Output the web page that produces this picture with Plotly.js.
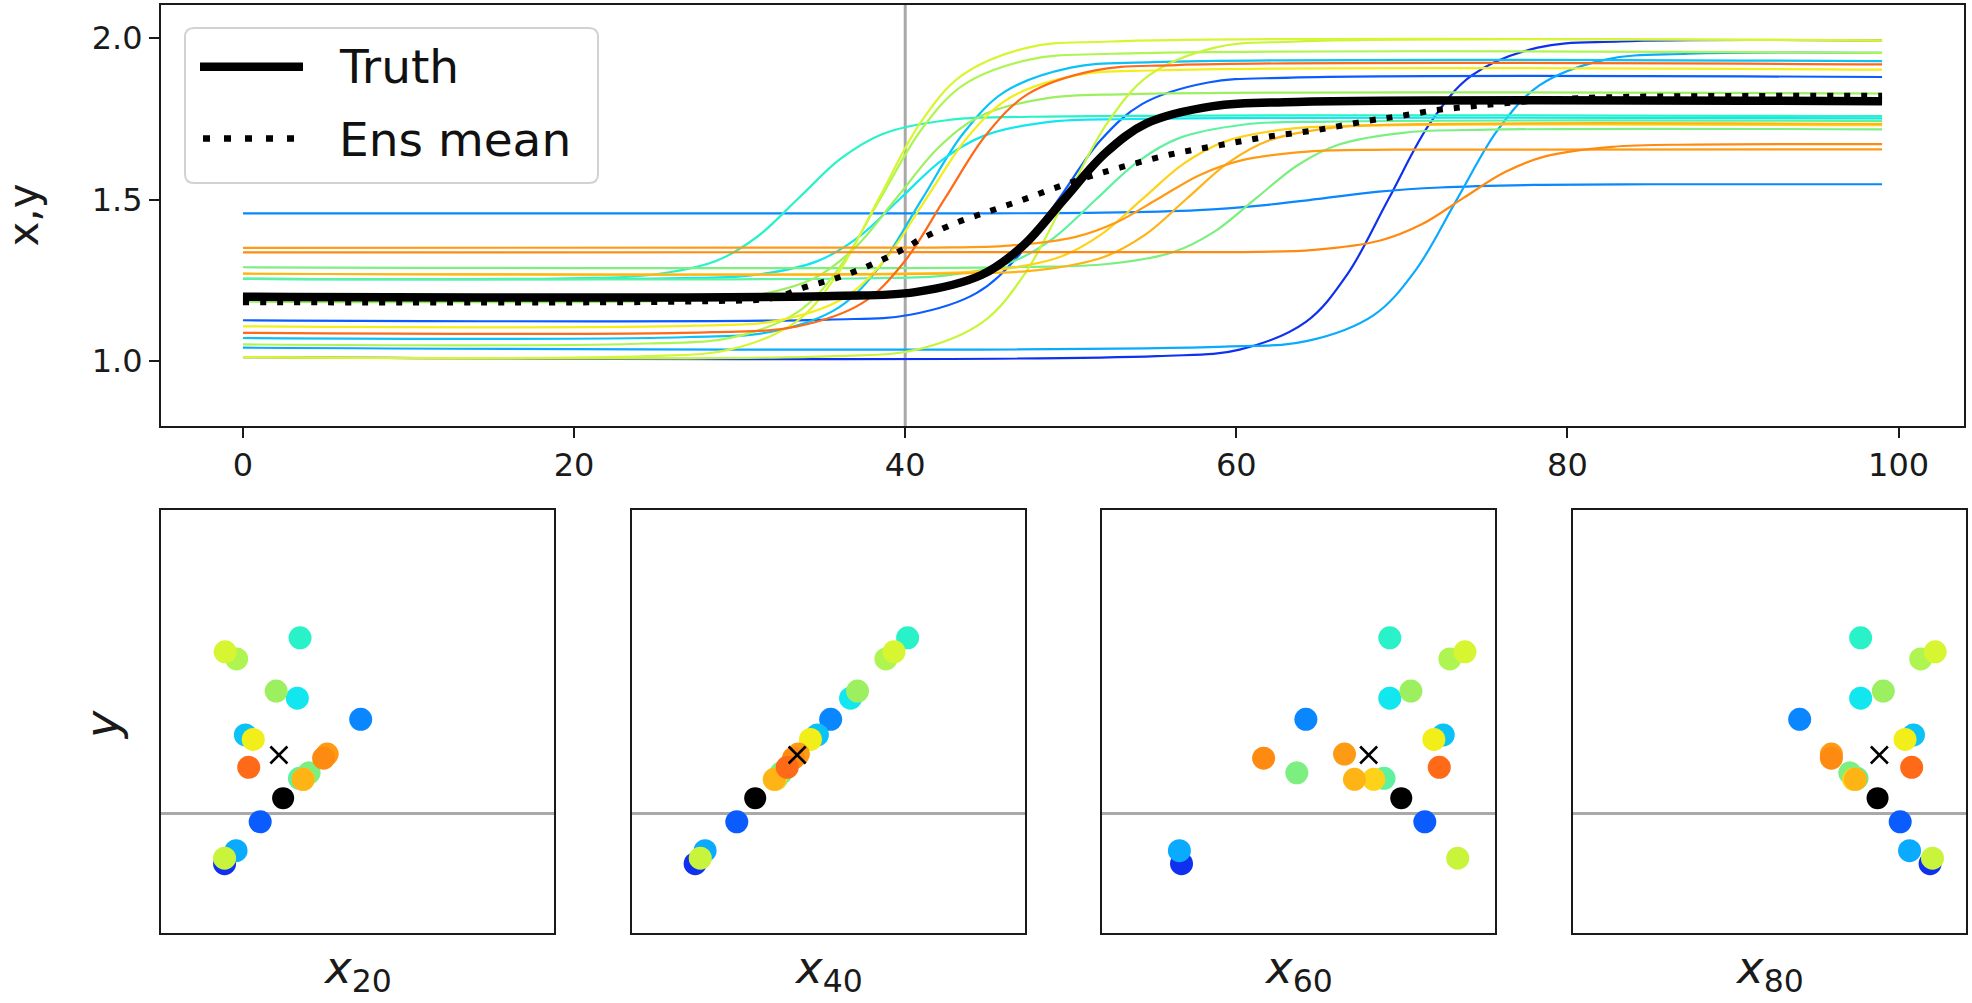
<!DOCTYPE html>
<html>
<head>
<meta charset="utf-8">
<script src="https://cdn.plot.ly/plotly-3.0.1.min.js"></script>
<style>html,body{margin:0;padding:0;background:#fff;}</style>
</head>
<body>
<div id="chart" style="width:1972px;height:1003px;"></div>
<script>
// ---------------- DATA ----------------
const timeTicks = [0, 20, 40, 60, 80, 100];
const valueTicks = [1.0, 1.5, 2.0];
const valueTickText = ['1.0', '1.5', '2.0'];
const obsTime = 40;          // vertical marker in top panel
const obsValue = 1.168;      // observed y (horizontal line in bottom panels)
const snapTimes = [20, 40, 60, 80];

// ensemble members (drawn in this order)
const memberIds = ['S','P','F','Q','G','E','A','O','L','D','C','R','B','H','N','M','J','I','K'];

// top panel: knots (time, value)
const memberKnotT = [
  [0, 55.2, 60.2, 64.2, 66.7, 69.2, 71.7, 74.2, 78.2, 83.2, 99],
  [0, 35.3, 40.3, 44.3, 46.8, 49.3, 51.8, 54.3, 58.3, 63.3, 99],
  [0, 45.0, 52.0, 57.7, 61.4, 65.0, 68.6, 72.3, 78.0, 85.0, 99],
  [0, 59.3, 64.3, 68.3, 70.8, 73.3, 75.8, 78.3, 82.3, 87.3, 99],
  [0, 27.0, 32.0, 36.0, 38.5, 41.0, 43.5, 46.0, 50.0, 55.0, 99],
  [0, 25.7, 30.7, 34.7, 37.2, 39.7, 42.2, 44.7, 48.7, 53.7, 99],
  [0, 19.6, 24.6, 28.6, 31.1, 33.6, 36.1, 38.6, 42.6, 47.6, 99],
  [0, 37.5, 42.5, 46.5, 49.0, 51.5, 54.0, 56.5, 60.5, 65.5, 99],
  [0, 47.2, 52.2, 56.2, 58.7, 61.2, 63.7, 66.2, 70.2, 75.2, 99],
  [0, 25.5, 30.5, 34.5, 37.0, 39.5, 42.0, 44.5, 48.5, 53.5, 99],
  [0, 24.5, 29.5, 33.5, 36.0, 38.5, 41.0, 43.5, 47.5, 52.5, 99],
  [0, 35.7, 40.7, 44.7, 47.2, 49.7, 52.2, 54.7, 58.7, 63.7, 99],
  [0, 24.4, 29.4, 33.4, 35.9, 38.4, 40.9, 43.4, 47.4, 52.4, 99],
  [0, 27.3, 32.3, 36.3, 38.8, 41.3, 43.8, 46.3, 50.3, 55.3, 99],
  [0, 40.3, 45.3, 49.3, 51.8, 54.3, 56.8, 59.3, 63.3, 68.3, 99],
  [0, 43.0, 48.0, 52.0, 54.5, 57.0, 59.5, 62.0, 66.0, 71.0, 99],
  [0, 41.3, 46.3, 50.3, 52.8, 55.3, 57.8, 60.3, 64.3, 69.3, 99],
  [0, 59.7, 64.7, 68.7, 71.2, 73.7, 76.2, 78.7, 82.7, 87.7, 99],
  [0, 28.4, 33.4, 37.4, 39.9, 42.4, 44.9, 47.4, 51.4, 56.4, 99]
];
const memberKnotX = [
  [1.013, 1.016, 1.036, 1.122, 1.269, 1.503, 1.737, 1.884, 1.971, 1.990, 1.993],
  [1.127, 1.129, 1.144, 1.211, 1.324, 1.504, 1.684, 1.796, 1.863, 1.878, 1.880],
  [1.458, 1.458, 1.460, 1.468, 1.482, 1.503, 1.525, 1.538, 1.546, 1.548, 1.548],
  [1.042, 1.045, 1.063, 1.143, 1.280, 1.499, 1.717, 1.854, 1.934, 1.952, 1.955],
  [1.072, 1.075, 1.092, 1.167, 1.296, 1.501, 1.705, 1.834, 1.909, 1.926, 1.929],
  [1.255, 1.257, 1.266, 1.310, 1.385, 1.504, 1.622, 1.697, 1.741, 1.750, 1.752],
  [1.255, 1.257, 1.267, 1.311, 1.387, 1.507, 1.627, 1.703, 1.747, 1.757, 1.759],
  [1.255, 1.257, 1.266, 1.309, 1.383, 1.500, 1.616, 1.690, 1.733, 1.742, 1.744],
  [1.291, 1.292, 1.301, 1.338, 1.402, 1.505, 1.607, 1.671, 1.708, 1.717, 1.718],
  [1.185, 1.187, 1.200, 1.257, 1.353, 1.507, 1.661, 1.758, 1.814, 1.827, 1.829],
  [1.052, 1.055, 1.073, 1.152, 1.288, 1.504, 1.719, 1.855, 1.934, 1.952, 1.955],
  [1.013, 1.016, 1.036, 1.122, 1.269, 1.503, 1.737, 1.884, 1.971, 1.990, 1.993],
  [1.013, 1.016, 1.036, 1.122, 1.269, 1.503, 1.737, 1.884, 1.971, 1.990, 1.993],
  [1.108, 1.110, 1.126, 1.196, 1.316, 1.506, 1.696, 1.815, 1.885, 1.901, 1.903],
  [1.271, 1.272, 1.282, 1.322, 1.391, 1.501, 1.611, 1.680, 1.720, 1.730, 1.731],
  [1.271, 1.272, 1.282, 1.323, 1.392, 1.503, 1.614, 1.684, 1.724, 1.734, 1.735],
  [1.351, 1.352, 1.358, 1.385, 1.431, 1.504, 1.577, 1.622, 1.649, 1.655, 1.656],
  [1.337, 1.338, 1.345, 1.374, 1.424, 1.505, 1.585, 1.635, 1.664, 1.671, 1.672],
  [1.088, 1.090, 1.107, 1.180, 1.305, 1.504, 1.702, 1.827, 1.900, 1.917, 1.919]
];
const truthT = [0, 35.6, 40.6, 44.6, 47.1, 49.6, 52.1, 54.6, 58.6, 63.6, 99];
const truthX = [1.200, 1.202, 1.214, 1.267, 1.357, 1.502, 1.645, 1.737, 1.790, 1.803, 1.805];
const meanT = [0, 28, 32, 34, 36, 38, 40, 41, 43, 45, 47, 49, 51, 53, 56, 59, 62, 65, 68, 70, 72, 74, 76, 79, 83, 99];
const meanX = [1.183, 1.186, 1.196, 1.230, 1.260, 1.300, 1.350, 1.380, 1.427, 1.463, 1.498, 1.536, 1.570, 1.600, 1.640, 1.669, 1.696, 1.717, 1.745, 1.760, 1.777, 1.788, 1.798, 1.810, 1.818, 1.822];

// bottom panels: observed quantity y of each member and its state at t = 20, 40, 60, 80
const memberY   = [1.013, 1.142, 1.458, 1.053, 1.410, 1.523, 1.709, 1.276, 1.293, 1.545, 1.644, 1.030, 1.666, 1.396, 1.273, 1.273, 1.351, 1.338, 1.310];
const memberX20 = [1.010, 1.128, 1.461, 1.048, 1.079, 1.251, 1.260, 1.258, 1.290, 1.181, 1.050, 1.010, 1.012, 1.105, 1.271, 1.270, 1.350, 1.338, 1.090];
const memberX40 = [1.010, 1.148, 1.459, 1.043, 1.415, 1.525, 1.714, 1.280, 1.295, 1.548, 1.642, 1.027, 1.669, 1.392, 1.276, 1.272, 1.352, 1.336, 1.315];
const memberX60 = [1.063, 1.869, 1.475, 1.056, 1.930, 1.753, 1.753, 1.734, 1.445, 1.823, 1.952, 1.978, 2.002, 1.899, 1.700, 1.636, 1.603, 1.335, 1.917];
const memberX80 = [1.984, 1.885, 1.552, 1.916, 1.929, 1.754, 1.754, 1.742, 1.718, 1.829, 1.953, 1.992, 2.001, 1.901, 1.731, 1.737, 1.657, 1.657, 1.923];
const truthSnapX = [1.204, 1.209, 1.791, 1.810];
const truthSnapY = 1.215;
const meanSnapX = [1.190, 1.348, 1.683, 1.816];
const meanSnapY = 1.348;

// ---------------- STYLE ----------------
const memberColors = ['#1030f0','#0a5cff','#0a86ff','#0aaaff','#0ac2f5','#12e6ee','#2af2c8','#5ef2a0','#7cef80','#9cf060',
                      '#aef552','#c8f53c','#d8f532','#f2ee1a','#ffd21a','#ffb416','#ff9a14','#ff8a12','#ff6a18'];
const FONT = 'DejaVu Sans, sans-serif';
const INK = '#1a1a1a';
const RANGE_V = [0.7994, 2.103];

const traces = [];
memberIds.forEach((id, i) => {
  traces.push({
    type: 'scatter', mode: 'lines', name: 'member ' + id,
    x: memberKnotT[i], y: memberKnotX[i], xaxis: 'x', yaxis: 'y',
    line: {color: memberColors[i], width: 2.2, shape: 'spline', smoothing: 1},
    hoverinfo: 'skip', showlegend: false
  });
});
traces.push({type: 'scatter', mode: 'lines', name: 'Truth', x: truthT, y: truthX, xaxis: 'x', yaxis: 'y',
  line: {color: '#000', width: 8.5, shape: 'spline', smoothing: 1}, showlegend: false});
traces.push({type: 'scatter', mode: 'lines', name: 'Ens mean', x: meanT, y: meanX, xaxis: 'x', yaxis: 'y',
  line: {color: '#000', width: 6, dash: '6px,11px', shape: 'spline', smoothing: 1}, showlegend: false});

const snaps = [memberX20, memberX40, memberX60, memberX80];
snaps.forEach((xs, k) => {
  const ax = String(k + 2);
  traces.push({type: 'scatter', mode: 'markers', x: xs, y: memberY, xaxis: 'x' + ax, yaxis: 'y' + ax,
    marker: {color: memberColors, size: 23, line: {width: 0}}, showlegend: false, hoverinfo: 'skip'});
  traces.push({type: 'scatter', mode: 'markers', x: [truthSnapX[k]], y: [truthSnapY], xaxis: 'x' + ax, yaxis: 'y' + ax,
    marker: {color: '#000', size: 22, line: {width: 0}}, showlegend: false});
  traces.push({type: 'scatter', mode: 'markers', x: [meanSnapX[k]], y: [meanSnapY], xaxis: 'x' + ax, yaxis: 'y' + ax,
    marker: {symbol: 'x-thin', size: 17, line: {width: 2.6, color: '#000'}}, showlegend: false});
});

const frameAxis = {showline: true, linecolor: INK, linewidth: 2, mirror: true, showgrid: false, zeroline: false};
const panelDomains = [[0, 0.218], [0.2607, 0.4787], [0.5213, 0.7393], [0.782, 1.0]];

const layout = {
  width: 1972, height: 1003,
  margin: {l: 161, r: 6, t: 5, b: 70},
  paper_bgcolor: '#fff', plot_bgcolor: '#fff',
  showlegend: false,
  font: {family: FONT, color: INK},
  xaxis: Object.assign({}, frameAxis, {domain: [0, 0.9989], anchor: 'y', range: [-4.95, 103.95],
    tickmode: 'array', tickvals: timeTicks, ticks: 'outside', ticklen: 10, tickwidth: 2, tickcolor: INK,
    tickfont: {family: FONT, size: 32, color: INK}}),
  yaxis: Object.assign({}, frameAxis, {domain: [0.5463, 1], anchor: 'x', range: RANGE_V,
    tickmode: 'array', tickvals: valueTicks, ticktext: valueTickText, ticks: 'outside', ticklen: 10, tickwidth: 2, tickcolor: INK,
    tickfont: {family: FONT, size: 32, color: INK}}),
  shapes: [],
  annotations: []
};
panelDomains.forEach((d, k) => {
  const ax = String(k + 2);
  layout['xaxis' + ax] = Object.assign({}, frameAxis, {domain: d, anchor: 'y' + ax, range: RANGE_V, showticklabels: false, ticks: ''});
  layout['yaxis' + ax] = Object.assign({}, frameAxis, {domain: [0, 0.4558], anchor: 'x' + ax, range: RANGE_V, showticklabels: false, ticks: ''});
  layout.shapes.push({type: 'line', xref: 'x' + ax + ' domain', yref: 'y' + ax, x0: 0, x1: 1, y0: obsValue, y1: obsValue,
    line: {color: '#a9a9a9', width: 3}, layer: 'below'});
  layout.annotations.push({text: '<i>x</i><sub>' + snapTimes[k] + '</sub>', xref: 'paper', yref: 'paper',
    x: (d[0] + d[1]) / 2, y: -0.0395, xanchor: 'center', yanchor: 'middle', showarrow: false,
    font: {family: FONT, size: 45, color: INK}});
});
// vertical marker at observation time
layout.shapes.push({type: 'line', xref: 'x', yref: 'y domain', x0: obsTime, x1: obsTime, y0: 0, y1: 1,
  line: {color: '#a9a9a9', width: 3}, layer: 'below'});
// legend box (rounded) and samples
layout.shapes.push({type: 'path', xref: 'paper', yref: 'paper', layer: 'above',
  path: 'M 0.018282,0.975216 L 0.237119,0.975216 Q 0.242105,0.975216 0.242105,0.965518 L 0.242105,0.817888 Q 0.242105,0.808190 0.237119,0.808190 L 0.018282,0.808190 Q 0.013296,0.808190 0.013296,0.817888 L 0.013296,0.965518 Q 0.013296,0.975216 0.018282,0.975216 Z',
  fillcolor: 'rgba(255,255,255,0.85)', line: {color: '#d2d2d2', width: 2}});
layout.shapes.push({type: 'line', xref: 'paper', yref: 'paper', layer: 'above', x0: 0.021607, x1: 0.078670, y0: 0.933513, y1: 0.933513,
  line: {color: '#000', width: 8.5}});
layout.shapes.push({type: 'line', xref: 'paper', yref: 'paper', layer: 'above', x0: 0.023269, x1: 0.077008, y0: 0.856142, y1: 0.856142,
  line: {color: '#000', width: 6.5, dash: '7px,14px'}});
layout.annotations.push({text: 'Truth', xref: 'paper', yref: 'paper', x: 0.0975, y: 0.9335, xanchor: 'left', yanchor: 'middle',
  showarrow: false, font: {family: FONT, size: 47, color: '#111'}});
layout.annotations.push({text: 'Ens mean', xref: 'paper', yref: 'paper', x: 0.0975, y: 0.8556, xanchor: 'left', yanchor: 'middle',
  showarrow: false, font: {family: FONT, size: 47, color: '#111'}});
// axis titles
layout.annotations.push({text: 'x,y', xref: 'paper', yref: 'paper', x: -0.0767, y: 0.7737, textangle: -90,
  xanchor: 'center', yanchor: 'middle', showarrow: false, font: {family: FONT, size: 42, color: INK}});
layout.annotations.push({text: '<i>y</i>', xref: 'paper', yref: 'paper', x: -0.0327, y: 0.2241, textangle: -90,
  xanchor: 'center', yanchor: 'middle', showarrow: false, font: {family: FONT, size: 46, color: INK}});

Plotly.newPlot('chart', traces, layout, {staticPlot: true, displayModeBar: false});
</script>
</body>
</html>
